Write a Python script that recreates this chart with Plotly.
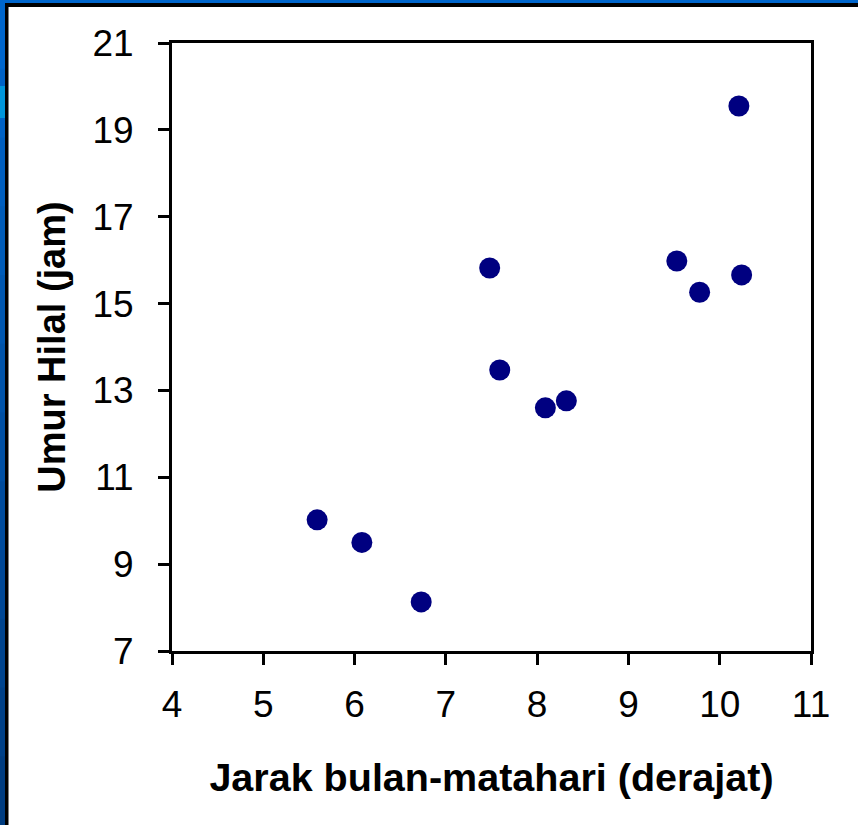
import plotly.graph_objects as go

# Data
jarak = [5.59, 6.08, 6.73, 7.48, 7.59, 8.09, 8.32, 9.53, 9.78, 10.24, 10.21]
umur = [10.02, 9.50, 8.13, 15.82, 13.47, 12.60, 12.76, 15.98, 15.26, 15.66, 19.55]

x_title = "Jarak bulan-matahari (derajat)"
y_title = "Umur Hilal (jam)"
x_ticks = [4, 5, 6, 7, 8, 9, 10, 11]
y_ticks = [7, 9, 11, 13, 15, 17, 19, 21]

W, H = 858, 825
L, R, T, B = 172, 811, 43, 651

FONT = "Liberation Sans, Arial, sans-serif"

fig = go.Figure()
fig.add_trace(go.Scatter(
    x=jarak, y=umur, mode="markers",
    marker=dict(size=21, color="#000080", line=dict(width=0)),
    showlegend=False, cliponaxis=False,
))

shapes = []


def rect(xl, yt, xr, yb, color):
    shapes.append(dict(
        type="rect", xref="paper", yref="paper",
        xsizemode="pixel", ysizemode="pixel",
        xanchor=0, yanchor=1,
        x0=xl - L, x1=xr - L, y0=T - yb, y1=T - yt,
        fillcolor=color, line=dict(width=0), layer="above",
    ))


# Slide-like border: blue gradient on the left, blue strip on top, black inner line
steps = 12
top_c = (0x00, 0x66, 0xCC)
bot_c = (0x00, 0x3C, 0x80)
for i in range(steps):
    f = i / (steps - 1)
    c = tuple(int(round(top_c[k] + (bot_c[k] - top_c[k]) * f)) for k in range(3))
    rect(0, H * i / steps, 5.5, H * (i + 1) / steps + 1, "rgb(%d,%d,%d)" % c)
rect(0, 86, 5.5, 118, "#0095DA")
rect(0, 0, W, 3, "#0066CC")
rect(5, 3, 8.5, H, "#000000")
rect(5, 3, W, 7, "#000000")

fig.update_layout(
    width=W, height=H,
    margin=dict(l=L, r=W - R, t=T, b=H - B, autoexpand=False),
    paper_bgcolor="white", plot_bgcolor="white",
    font=dict(family=FONT, size=37, color="black"),
    shapes=shapes,
    xaxis=dict(
        range=[4, 11], tickvals=x_ticks, ticktext=[str(v) for v in x_ticks],
        ticks="outside", ticklen=11, tickwidth=3, tickcolor="black",
        showline=True, linewidth=3, linecolor="black", mirror=True,
        showgrid=False, zeroline=False, ticklabelstandoff=8,
        title=dict(text="<b>" + x_title + "</b>", font=dict(size=39.5, family=FONT), standoff=39),
        automargin=False,
    ),
    yaxis=dict(
        range=[7, 21], tickvals=y_ticks, ticktext=[str(v) for v in y_ticks],
        ticks="outside", ticklen=11, tickwidth=3, tickcolor="black",
        showline=True, linewidth=3, linecolor="black", mirror=True,
        showgrid=False, zeroline=False, ticklabelstandoff=17,
        title=dict(text="<b>" + y_title + "</b>", font=dict(size=38, family=FONT), standoff=16),
        automargin=False,
    ),
)

fig.write_html(
    "out.html",
    config={"displayModeBar": False},
    post_script="document.body.style.margin='0';document.body.style.overflow='hidden';",
)
